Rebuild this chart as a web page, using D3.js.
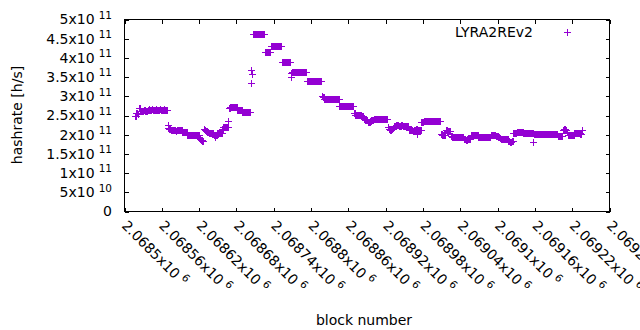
<!DOCTYPE html>
<html>
<head>
<meta charset="utf-8">
<script src="https://cdn.jsdelivr.net/npm/d3@7"></script>
<style>
  body { margin: 0; background: #fff; }
  svg { display: block; font-family: "DejaVu Sans", sans-serif; }
</style>
</head>
<body>
<svg id="chart" width="640" height="330"></svg>
<script>
// hashrate of each block, in 1e9 h/s
const firstBlock = 2068518;
const hashrateGH = [
  250, 250, 256, 256, 254, 254,
  270, 270, 262, 262, 263, 263, 262, 262, 264, 264, 263, 263, 263, 263,
  265, 265, 266, 265, 265, 265, 265, 266, 265, 265, 265, 265, 265, 265, 266, 265,
  265, 265, 265, 265, 266, 265, 265, 265, 265, 265, 265, 266, 265, 265, 265, 265,
  224,
  218, 218, 214, 214, 211, 211, 211, 211, 211, 211, 211, 211, 210, 210, 211, 211, 211, 211, 211, 211, 211, 211, 211,
  206, 206, 206, 206, 206, 206, 206, 206,
  200, 200, 199, 199, 199, 199, 199, 199, 199, 199, 199, 199, 199, 199, 199, 199, 199, 199, 199, 199,
  190, 190, 185, 185, 184, 184,
  216, 216, 211, 211, 210, 210, 208, 208,
  205, 205, 205, 205, 205, 205, 205, 205,
  200, 200, 194, 200, 200, 200,
  204, 204, 204, 204, 204, 204, 204, 204,
  214, 214, 219, 219, 219, 219, 220, 220, 219, 219,
  235,
  270, 270, 272, 272, 273, 273, 273, 273, 272, 272, 272, 272, 272,
  265, 265, 265, 265, 265, 265, 265, 265,
  258, 258, 258, 258, 258, 258, 258, 258, 258, 258, 258, 258, 258, 258,
  335,
  369, 359,
  462, 462, 462, 462, 462, 462, 462, 462, 462, 462, 462, 462, 462, 462, 462, 462, 462, 462, 462,
  416, 416, 416, 416, 416, 416, 416, 416, 416, 416,
  431, 431, 431, 431, 431, 431, 431, 431, 431, 431, 431, 431, 431, 431, 431, 431, 431, 431,
  390, 390, 390, 390, 390, 390, 390, 390, 390, 390, 390, 390, 390, 390,
  351, 360,
  364, 364, 364, 364, 364, 364, 364, 364, 364, 364, 364, 364, 364, 364, 364, 364, 364, 364, 364, 364, 364, 364, 364, 364,
  340, 340, 340, 340, 340, 340, 340, 340, 340, 340, 340, 340, 340, 340, 340, 340, 340, 340, 340, 340, 340, 340, 340, 340,
  302, 302, 298, 298,
  292, 292, 292, 292, 292, 292, 292, 292, 292, 292, 292, 292, 292, 292, 292, 292, 292, 292, 292, 292, 292, 292, 292, 292,
  275, 275, 275, 275, 275, 275, 275, 275, 275, 275, 275, 275, 275, 275, 275, 275, 275, 275, 275, 275, 275, 275, 275, 275,
  256, 256, 252, 252, 252, 252, 252, 252, 252, 252, 252, 252, 250, 250, 250, 250,
  242, 242, 238, 238, 238, 238, 232, 232, 232, 232, 236, 236, 238, 238, 238, 238,
  241, 241, 241, 241, 241, 241, 241, 241, 241, 241, 241, 241, 241, 241, 241, 241, 241, 241, 241, 241, 241, 241,
  220, 220, 215, 215, 212, 212, 215, 215, 217, 217,
  222, 222, 223, 223, 225, 225, 224, 224, 223, 223, 223, 223, 224, 224, 222, 222, 223, 223, 223, 223, 222, 222, 222, 222,
  213, 213, 213, 213, 212, 212, 210, 210, 213, 213, 213, 213, 214, 214, 203, 213, 213, 213, 213, 213,
  233, 233, 234, 234, 235, 235, 235, 235, 235, 235, 235, 235, 235, 235, 235, 235,
  236, 236, 236, 236, 236, 236, 236, 236, 236, 236, 236, 236, 236, 236, 236, 236,
  201, 201, 200, 200, 199, 199, 200, 200,
  212, 212, 210, 210, 210, 210, 209, 209,
  196, 196, 194, 194, 194, 194, 193, 193, 193, 193, 194, 194, 194, 194, 194, 194, 194, 194, 194, 194,
  189, 189, 188, 188, 186, 186, 189, 189, 189, 189, 190, 190,
  199, 199, 199, 199, 199, 199, 198, 198, 199, 199, 199, 199,
  195, 195, 195, 195, 195, 195, 194, 194, 195, 195, 195, 195, 195, 195, 195, 195, 194, 194, 193, 193,
  199, 199, 200, 200, 200, 200, 200, 200, 197, 197, 197, 197, 194, 194, 192, 192,
  190, 190, 189, 189, 189, 189, 189, 189, 189, 189, 188, 188,
  183, 183, 182, 182, 182, 182, 183, 183,
  204, 204, 205, 205, 205, 205, 206, 206, 206, 206, 206, 206, 206, 206, 206, 206,
  205, 205, 205, 205, 205, 205, 205, 205, 205, 205, 205, 205, 205, 205, 205, 205,
  180,
  202, 202, 202, 202, 201, 202, 202, 202, 202, 202, 202, 202, 202, 201, 201, 202, 202, 202, 202, 202,
  202, 202, 202, 202, 202, 202, 202, 201, 201, 202, 202, 202, 202, 202, 202, 202, 202, 202, 202,
  196, 196, 196, 196, 196, 196, 196, 196,
  213, 213, 214, 214, 213, 213, 208, 208,
  199, 199, 200, 200, 200, 200, 198, 198, 200, 200,
  205, 205, 205, 205, 205, 205, 204, 204, 205, 205, 203, 203,
  213
];

const xTicks = [2068500, 2068560, 2068620, 2068680, 2068740, 2068800, 2068860,
  2068920, 2068980, 2069040, 2069100, 2069160, 2069220, 2069280];
const yTicks = [0, 5e10, 1e11, 1.5e11, 2e11, 2.5e11, 3e11, 3.5e11, 4e11, 4.5e11, 5e11];
const seriesName = "LYRA2REv2";
const color = "#9400d3";

const data = hashrateGH.map((v, i) => ({ block: firstBlock + i, value: v * 1e9 }));

const svg = d3.select("#chart");
const pLeft = 124.5, pRight = 609.5, pTop = 19.5, pBottom = 211.5;

const x = d3.scaleLinear().domain([2068500, 2069280]).range([pLeft, pRight]);
const y = d3.scaleLinear().domain([0, 5e11]).range([pBottom, pTop]);

// ticks, inward on all four sides
function ticks(g) {
  g.select(".domain").remove();
  g.selectAll("line").attr("stroke", "#000").attr("shape-rendering", "crispEdges");
}
svg.append("g").attr("transform", `translate(${pLeft},0)`)
  .call(d3.axisLeft(y).tickValues(yTicks).tickSizeInner(-4).tickSizeOuter(0).tickFormat(""))
  .call(ticks);
svg.append("g").attr("transform", `translate(${pRight},0)`)
  .call(d3.axisRight(y).tickValues(yTicks).tickSizeInner(-4).tickSizeOuter(0).tickFormat(""))
  .call(ticks);
svg.append("g").attr("transform", `translate(0,${pBottom})`)
  .call(d3.axisBottom(x).tickValues(xTicks).tickSizeInner(-4).tickSizeOuter(0).tickFormat(""))
  .call(ticks);
svg.append("g").attr("transform", `translate(0,${pTop})`)
  .call(d3.axisTop(x).tickValues(xTicks).tickSizeInner(-4).tickSizeOuter(0).tickFormat(""))
  .call(ticks);

svg.append("rect")
  .attr("x", pLeft).attr("y", pTop)
  .attr("width", pRight - pLeft).attr("height", pBottom - pTop)
  .attr("fill", "none").attr("stroke", "#000").attr("shape-rendering", "crispEdges");

// y tick labels "mx10^e"
const yLab = svg.append("g").attr("font-size", 14).attr("fill", "#000");
yTicks.forEach(v => {
  const t = yLab.append("text")
    .attr("x", 112).attr("y", y(v)).attr("dy", "0.35em")
    .attr("text-anchor", "end");
  if (v === 0) { t.text("0"); return; }
  const e = Math.floor(Math.log10(v));
  const m = +(v / Math.pow(10, e)).toFixed(2);
  t.append("tspan").text(m + "x10");
  t.append("tspan").attr("font-size", 10.5).attr("dx", 4).attr("dy", -5.7).text(e);
});

// x tick labels, rotated (the last one runs off the right edge, as in the original)
const xLab = svg.append("g").attr("font-size", 14).attr("fill", "#000");
xTicks.forEach(v => {
  const t = xLab.append("text")
    .attr("transform", `translate(${x(v)},223) rotate(45)`)
    .attr("dy", "0.35em");
  t.append("tspan").text(+(v / 1e6).toFixed(5) + "x10");
  t.append("tspan").attr("font-size", 10.5).attr("dx", 4).attr("dy", -5.7).text(6);
});

// axis titles
svg.append("text")
  .attr("transform", "translate(22,115) rotate(-90)")
  .attr("text-anchor", "middle").attr("font-size", 14)
  .text("hashrate [h/s]");
svg.append("text")
  .attr("x", 364).attr("y", 325)
  .attr("text-anchor", "middle").attr("font-size", 14)
  .text("block number");

// points
const plus = "M-3.5,0H3.5M0,-3.5V3.5";
svg.append("g")
  .attr("stroke", color).attr("stroke-width", 1).attr("fill", "none")
  .attr("shape-rendering", "crispEdges")
  .selectAll("path")
  .data(data).enter()
  .append("path")
  .attr("transform", d => `translate(${x(d.block)},${Math.round(y(d.value)) + 0.5})`)
  .attr("d", plus);

// legend
svg.append("text")
  .attr("x", 533).attr("y", 32).attr("dy", "0.35em")
  .attr("text-anchor", "end").attr("font-size", 14)
  .text(seriesName);
svg.append("path")
  .attr("transform", "translate(567.5,32.5)")
  .attr("d", plus)
  .attr("stroke", color).attr("fill", "none")
  .attr("shape-rendering", "crispEdges");
</script>
</body>
</html>
